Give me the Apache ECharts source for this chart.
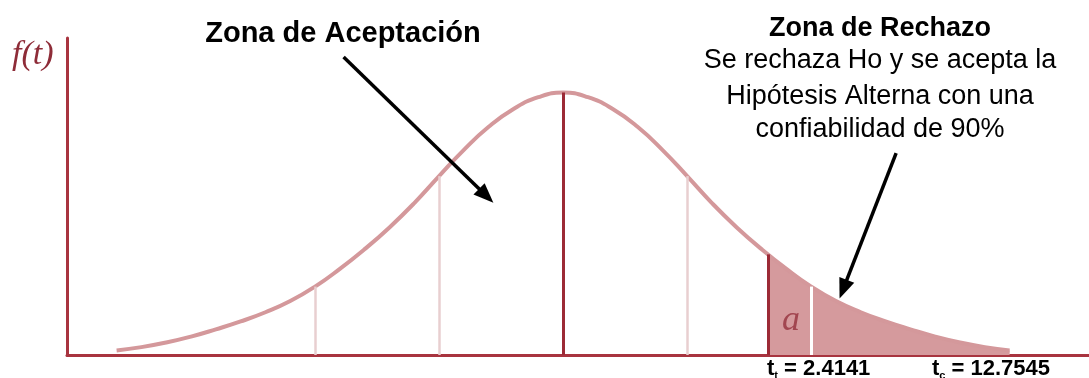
<!DOCTYPE html>
<html>
<head>
<meta charset="utf-8">
<script src="https://cdn.jsdelivr.net/npm/echarts@6/dist/echarts.min.js"></script>
<style>
	html, body { margin: 0; padding: 0; background: #fff; }
	#chart { width: 1089px; height: 378px; }
</style>
</head>
<body>
<div id="chart"></div>
<script>
// valores (t, f(t))
var tValues = [-3.6, -3.4, -3.2, -3.0, -2.8, -2.6, -2.4, -2.2, -2.0, -1.8, -1.6, -1.4, -1.2, -1.0, -0.8, -0.6, -0.4, -0.2, 0,
	0.2, 0.4, 0.6, 0.8, 1.0, 1.2, 1.4, 1.6, 1.8, 2.0, 2.2, 2.4, 2.6, 2.8, 3.0, 3.2, 3.4, 3.6];
var fValues = [0.007, 0.012, 0.019, 0.028, 0.039, 0.051, 0.065, 0.082, 0.104, 0.131, 0.161, 0.194, 0.231, 0.272, 0.312, 0.347, 0.374, 0.392, 0.399,
	0.392, 0.374, 0.347, 0.312, 0.272, 0.231, 0.194, 0.161, 0.131, 0.104, 0.082, 0.065, 0.051, 0.039, 0.028, 0.019, 0.012, 0.007];

// lineas verticales: posicion, altura hasta la curva, tipo
var guideT = [-2, -1, 0, 1, 1.65, 2];
var guideF = [0.104, 0.272, 0.399, 0.272, 0.153, 0.104];
var guideKind = ['light', 'light', 'dark', 'light', 'dark', 'white'];

// inicio de la zona de rechazo
var rejectStart = 1.65;

// flechas [desde, hasta]
var arrows = [
	[[-1.77, 0.453], [-0.62, 0.242]],
	[[2.685, 0.307], [2.258, 0.100]]
];

var curveColor = '#d4989b';
var axisColor = '#a8343f';
var shadeColor = '#d59a9d';

var curveData = [];
for (var i = 0; i < tValues.length; i++) {
	curveData.push([tValues[i], fValues[i]]);
}

var guideStyles = {
	light: { color: '#e8cfd0', width: 2.5, type: 'solid' },
	dark: { color: '#9c2a36', width: 3, type: 'solid' },
	white: { color: '#ffffff', width: 3, type: 'solid' }
};
var guideLines = [];
for (var j = 0; j < guideT.length; j++) {
	guideLines.push([
		{ coord: [guideT[j], 0], lineStyle: guideStyles[guideKind[j]] },
		{ coord: [guideT[j], guideF[j]] }
	]);
}

var arrowLines = [];
for (var k = 0; k < arrows.length; k++) {
	arrowLines.push([{ coord: arrows[k][0] }, { coord: arrows[k][1] }]);
}

var subRich = {
	m: { font: 'bold 22px "Liberation Sans"', fill: '#000', lineHeight: 24 },
	s: { font: 'bold 11px "Liberation Sans"', fill: '#000', lineHeight: 11, verticalAlign: 'bottom' }
};

var chart = echarts.init(document.getElementById('chart'));
var option = {
	animation: false,
	grid: { left: 67, right: 0, top: 38, bottom: 23 },
	xAxis: {
		type: 'value',
		min: -4,
		max: 4.24,
		axisLine: { onZero: false, lineStyle: { color: axisColor, width: 3 } },
		axisTick: { show: false },
		axisLabel: { show: false },
		splitLine: { show: false }
	},
	yAxis: {
		type: 'value',
		min: 0,
		max: 0.482,
		axisLine: { show: true, onZero: false, lineStyle: { color: axisColor, width: 3 } },
		axisTick: { show: false },
		axisLabel: { show: false },
		splitLine: { show: false }
	},
	series: [
		{
			// area sombreada (alfa), el color se pone despues
			type: 'line',
			data: curveData,
			smooth: 0.5,
			symbol: 'none',
			z: 1,
			lineStyle: { width: 0, opacity: 0 },
			areaStyle: { color: 'rgba(255,255,255,0)', opacity: 1 },
			markLine: {
				silent: true,
				symbol: ['none', 'none'],
				label: { show: false },
				data: guideLines
			}
		},
		{
			type: 'line',
			data: curveData,
			smooth: 0.5,
			symbol: 'none',
			z: 3,
			lineStyle: { color: curveColor, width: 4 }
		},
		{
			// flechas
			type: 'line',
			data: [],
			z: 5,
			markLine: {
				silent: true,
				symbol: ['none', 'triangle'],
				symbolSize: [16, 20],
				label: { show: false },
				lineStyle: { color: '#000', width: 3.5, type: 'solid' },
				data: arrowLines
			}
		}
	],
	graphic: [
		{
			type: 'text', z: 10,
			style: { text: 'f(t)', x: 12, y: 72, font: 'italic 34px "Liberation Serif"', fill: '#8e2c38', textAlign: 'left', textVerticalAlign: 'bottom' }
		},
		{
			type: 'text', z: 10,
			style: { text: 'Zona de Aceptación', x: 343, y: 48, font: 'bold 29px "Liberation Sans"', fill: '#000', textAlign: 'center', textVerticalAlign: 'bottom' }
		},
		{
			type: 'text', z: 10,
			style: { text: 'Zona de Rechazo', x: 880, y: 42, font: 'bold 27px "Liberation Sans"', fill: '#000', textAlign: 'center', textVerticalAlign: 'bottom' }
		},
		{
			type: 'text', z: 10,
			style: { text: 'Se rechaza Ho y se acepta la', x: 880, y: 74, font: '27px "Liberation Sans"', fill: '#000', textAlign: 'center', textVerticalAlign: 'bottom' }
		},
		{
			type: 'text', z: 10,
			style: { text: 'Hipótesis Alterna con una', x: 880, y: 110, font: '27px "Liberation Sans"', fill: '#000', textAlign: 'center', textVerticalAlign: 'bottom' }
		},
		{
			type: 'text', z: 10,
			style: { text: 'confiabilidad de 90%', x: 880, y: 143, font: '27px "Liberation Sans"', fill: '#000', textAlign: 'center', textVerticalAlign: 'bottom' }
		},
		{
			type: 'text', z: 10,
			style: { text: 'a', x: 791, y: 339, font: 'italic 36px "Liberation Serif"', fill: '#a24650', textAlign: 'center', textVerticalAlign: 'bottom' }
		},
		{
			type: 'text', z: 10,
			style: { text: '{m|t}{s|t}{m| = 2.4141}', x: 767, y: 381, textAlign: 'left', textVerticalAlign: 'bottom', rich: subRich }
		},
		{
			type: 'text', z: 10,
			style: { text: '{m|t}{s|c}{m| = 12.7545}', x: 932, y: 381, textAlign: 'left', textVerticalAlign: 'bottom', rich: subRich }
		}
	]
};
chart.setOption(option);

// relleno solo a la derecha de rejectStart
var cut = chart.convertToPixel({ xAxisIndex: 0 }, rejectStart);
var w = chart.getWidth();
chart.setOption({
	series: [{
		areaStyle: {
			color: new echarts.graphic.LinearGradient(0, 0, w, 0, [
				{ offset: 0, color: 'rgba(255,255,255,0)' },
				{ offset: cut / w, color: 'rgba(255,255,255,0)' },
				{ offset: cut / w, color: shadeColor },
				{ offset: 1, color: shadeColor }
			], true)
		}
	}]
});
</script>
</body>
</html>
